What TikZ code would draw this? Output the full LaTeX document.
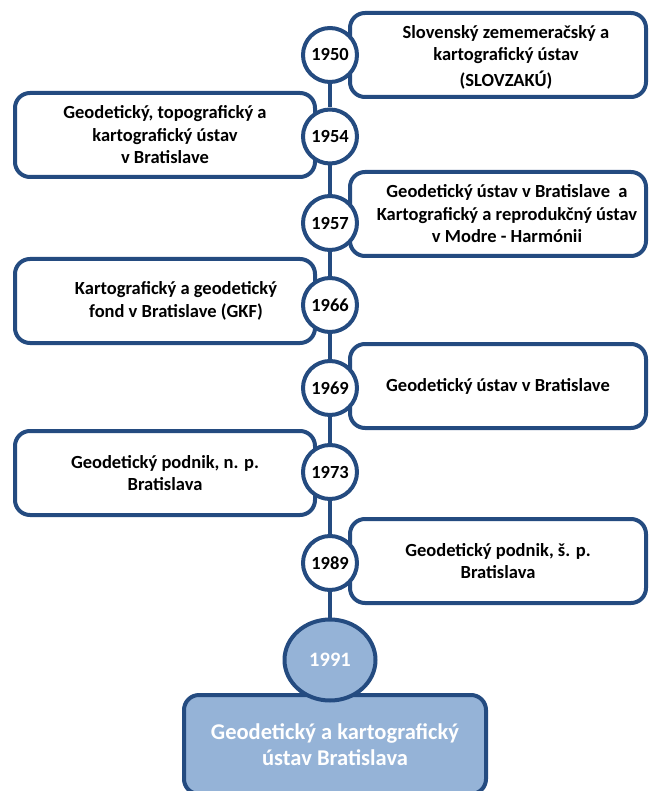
\documentclass[tikz,border=0pt]{standalone}
\usepackage{fontspec}
\setmainfont{Carlito}
\usepackage{tikz}
\usetikzlibrary{shapes.geometric}
\definecolor{rim}{RGB}{36,75,128}
\definecolor{pale}{RGB}{149,179,215}

\begin{document}
\begin{tikzpicture}[x=1pt,y=-1pt,
	    txt/.style={align=center, font=\bfseries\fontsize{18.5}{22.5}\selectfont},
	    box/.style={txt, draw=rim, line width=4pt, rounded corners=15pt, fill=white, minimum height=84pt},
	    rbox/.style={box, minimum width=296pt},
	    lbox/.style={box, minimum width=300pt},
	    year/.style={circle, draw=rim, line width=4pt, fill=white, minimum size=54pt, inner sep=0pt, font=\bfseries\fontsize{18.5}{22}\selectfont}]
	    \useasboundingbox (0,0) rectangle (651,791);
	    \node[rbox] (b1950) at (498,55) {};
	    \node[txt] (t1950) at ([xshift=8pt,yshift=-2pt]b1950.center) {Slovenský zememeračský a\\kartografický ústav\\[3pt](SLOVZAKÚ)};
	    \node[lbox] (b1954) at (165,135) {Geodetický, topografický a\\kartografický ústav\\v Bratislave};
	    \node[rbox] (b1957) at (498,214) {};
	    \node[txt] (t1957) at ([xshift=9pt]b1957.center) {Geodetický ústav v Bratislave\ \ a\\Kartografický a reprodukčný ústav\\v Modre - Harmónii};
	    \node[lbox] (b1966) at (165,301) {};
	    \node[txt] (t1966) at ([xshift=11pt]b1966.center) {Kartografický a geodetický\\fond v Bratislave (GKF)};
	    \node[rbox] (b1969) at (498,386) {Geodetický ústav v Bratislave};
	    \node[lbox] (b1973) at (165,473) {Geodetický podnik, n. p.\\Bratislava};
	    \node[rbox] (b1989) at (498,561) {Geodetický podnik, š. p.\\Bratislava};
	    \node[box, fill=pale, text=white, minimum width=302pt, minimum height=99pt, font=\bfseries\fontsize{22.5}{26}\selectfont] (b1991) at (335,744.5) {Geodetický a kartografický\\ústav Bratislava};
	    \node[year] (y1950) at (330,55) {1950};
	    \node[year] (y1954) at (330,136.5) {1954};
	    \node[year] (y1957) at (330,223) {1957};
	    \node[year] (y1966) at (330,305) {1966};
	    \node[year] (y1969) at (330,388) {1969};
	    \node[year] (y1973) at (330,472) {1973};
	    \node[year] (y1989) at (330,563) {1989};
	    \node[ellipse, draw=rim, line width=4pt, fill=pale, text=white, minimum width=91pt, minimum height=81pt, inner sep=0pt, font=\bfseries\fontsize{20.5}{24}\selectfont] (y1991) at (330,660) {1991};
	    \foreach \a/\b in {1950/1954,1954/1957,1957/1966,1966/1969,1969/1973,1973/1989,1989/1991}
	        \draw[rim, line width=4pt] (y\a) -- (y\b);
    \end{tikzpicture}
\end{document}
